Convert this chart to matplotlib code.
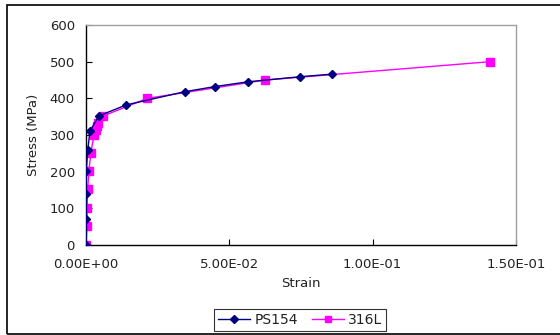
import matplotlib.pyplot as plt
from matplotlib.patches import Rectangle
from matplotlib.ticker import FuncFormatter

# PS154 stress-strain readings
ps154_strain = [0.0, 0.0001, 0.0001, 0.0001, 0.0006, 0.0014, 0.0045, 0.0140,
                0.0344, 0.0449, 0.0564, 0.0748, 0.0859]
ps154_stress = [0, 71, 139, 202, 259, 311, 352, 382, 418, 432, 445, 459, 466]

# 316L stress-strain readings
l316_strain = [0.0, 0.00035, 0.00035, 0.0006, 0.0010, 0.0017, 0.0028, 0.0035,
               0.0039, 0.0043, 0.0060, 0.0214, 0.0626, 0.1410]
l316_stress = [0, 52, 102, 153, 202, 252, 300, 314, 324, 333, 352, 400, 450, 500]

x_ticks = [0.0, 0.05, 0.10, 0.15]
y_ticks = [0, 100, 200, 300, 400, 500, 600]

txt = '#222222'
plt.rcParams['font.family'] = 'DejaVu Sans'
plt.rcParams['font.size'] = 9.5

fig = plt.figure(figsize=(5.6, 3.35), dpi=100)
W, H = 560, 335
ax = fig.add_axes([86 / W, 1 - 245 / H, 430 / W, 220 / H])

ax.plot(ps154_strain, ps154_stress, color='#000080', marker='D', markersize=4,
        linewidth=1, label='PS154', zorder=3)
ax.plot(l316_strain, l316_stress, color='#FF00FF', marker='s', markersize=5.5,
        linewidth=1, label='316L', zorder=2)

ax.set_xlim(0, 0.15)
ax.set_ylim(0, 600)
ax.set_xticks(x_ticks)
ax.set_yticks(y_ticks)
ax.xaxis.set_major_formatter(FuncFormatter(lambda v, p: f'{v:.2E}'))
ax.tick_params(direction='in', length=4, colors='#000000', labelcolor=txt)
ax.tick_params(axis='x', pad=9)
ax.tick_params(axis='y', pad=8)

for side in ['left', 'bottom']:
    ax.spines[side].set_color('#000000')
    ax.spines[side].set_linewidth(1)
for side in ['top', 'right']:
    ax.spines[side].set_color('#A0A0A0')
    ax.spines[side].set_linewidth(1)

ax.set_xlabel('Strain', color=txt, labelpad=5)
ax.set_ylabel('Stress (MPa)', color=txt, labelpad=7)

leg = fig.legend(loc='center', bbox_to_anchor=(300 / W, 1 - 320 / H), ncol=2,
                 frameon=True, fancybox=False, edgecolor='#000000',
                 handlelength=2.3, handletextpad=0.3, columnspacing=1.0,
                 borderpad=0.3, fontsize=10, markerscale=0.9)
leg.get_frame().set_linewidth(0.8)
for t in leg.get_texts():
    t.set_color(txt)

# outer chart border
fig.patches.append(Rectangle((7 / W, 1 - 334 / H), 600 / W, 329.5 / H,
                             transform=fig.transFigure, fill=False,
                             edgecolor='#000000', linewidth=1.2))

fig.savefig('out.png', dpi=100)
